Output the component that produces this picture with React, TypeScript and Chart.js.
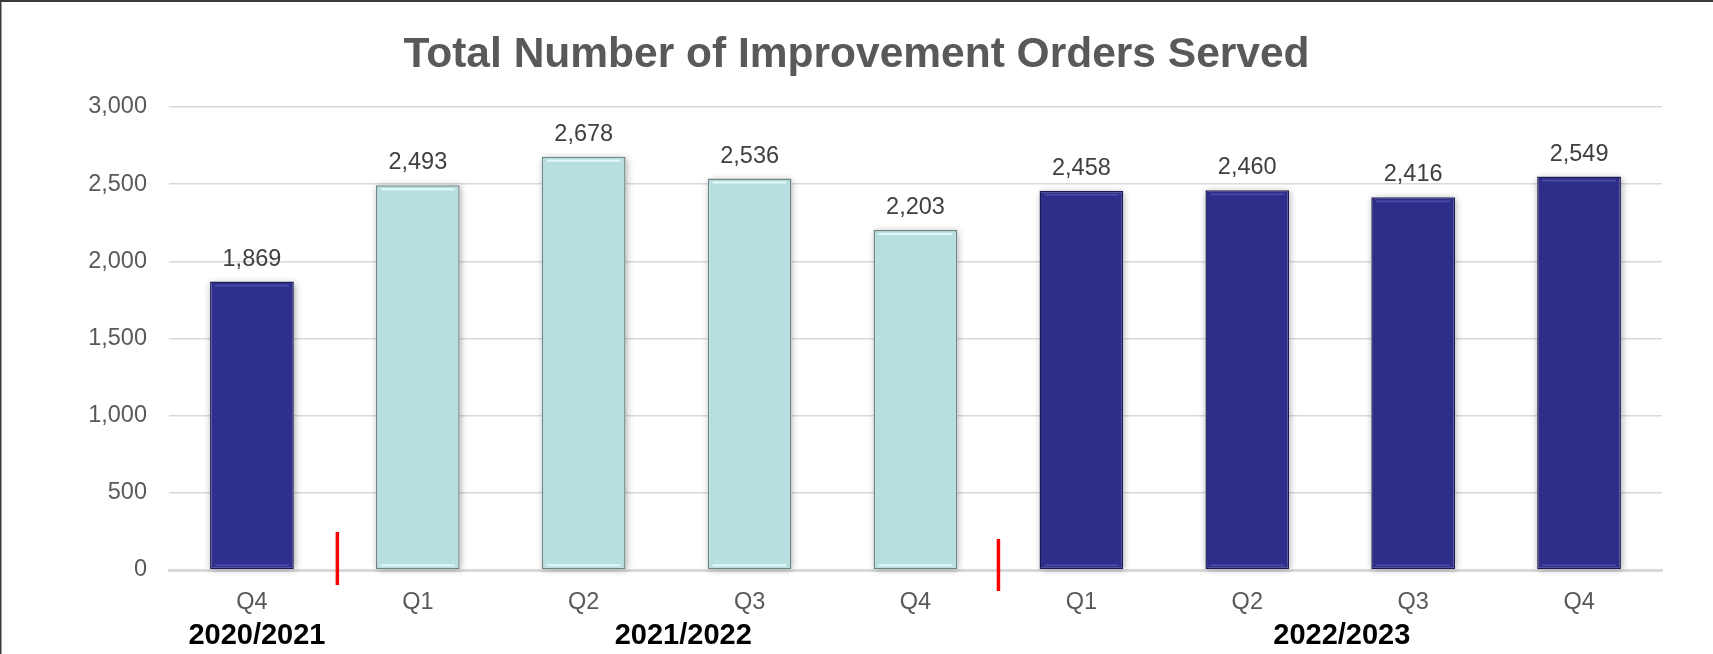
import { useEffect, useRef } from "react";
import { Chart, registerables } from "chart.js";

Chart.register(...registerables);

const chartTitle = "Total Number of Improvement Orders Served";
const quarters = ["Q4", "Q1", "Q2", "Q3", "Q4", "Q1", "Q2", "Q3", "Q4"];
const fiscalYearOfBar = [
  "2020/2021",
  "2021/2022",
  "2021/2022",
  "2021/2022",
  "2021/2022",
  "2022/2023",
  "2022/2023",
  "2022/2023",
  "2022/2023",
];
const ordersServed = [1869, 2493, 2678, 2536, 2203, 2458, 2460, 2416, 2549];
const fiscalYears = ["2020/2021", "2021/2022", "2022/2023"];
const yTickValues = [0, 500, 1000, 1500, 2000, 2500, 3000];

const FONT = "'Liberation Sans', Arial, Helvetica, sans-serif";

const yearStyle: Record<string, { fill: string; border: string; hi: string }> = {
  "2020/2021": { fill: "#2F2F8F", border: "#1C1C55", hi: "rgba(120,120,220,0.35)" },
  "2021/2022": { fill: "#B8DFE0", border: "#6F8585", hi: "rgba(235,255,255,0.8)" },
  "2022/2023": { fill: "#2E2D89", border: "#1C1C55", hi: "rgba(120,120,220,0.35)" },
};

// where each fiscal-year caption sits, in category units
const yearCaptionAt: Record<string, number> = {
  "2020/2021": 0.03,
  "2021/2022": 2.6,
  "2022/2023": 6.57,
};
// horizontal nudge (category units) and vertical extents of the red separators relative to the zero line
const separatorShape = [
  { dx: 0.015, top: -38, bottom: 15 },
  { dx: 0, top: -31, bottom: 21 },
];

const chartPlugin = {
  id: "custom",
  beforeDraw(chart: any) {
    const ctx = chart.ctx;
    ctx.save();
    ctx.fillStyle = "#ffffff";
    ctx.fillRect(0, 0, chart.width, chart.height);
    ctx.fillStyle = "#3a3a3a";
    ctx.fillRect(0, 0, chart.width, 2);
    ctx.fillRect(0, 0, 1.5, chart.height);
    // title
    ctx.fillStyle = "#595959";
    ctx.font = `bold 42.5px ${FONT}`;
    ctx.textAlign = "center";
    ctx.textBaseline = "alphabetic";
    ctx.fillText(chartTitle, chart.width / 2, 67);
    ctx.restore();
  },
  beforeDatasetsDraw(chart: any) {
    const ctx = chart.ctx;
    const meta = chart.getDatasetMeta(0);
    ctx.save();
    ctx.shadowColor = "rgba(0,0,0,0.35)";
    ctx.shadowBlur = 7;
    ctx.shadowOffsetX = 1;
    ctx.shadowOffsetY = 1;
    ctx.fillStyle = "#ffffff";
    meta.data.forEach((bar: any) => {
      const { x, y, base, width } = bar.getProps(["x", "y", "base", "width"], true);
      ctx.fillRect(x - width / 2, y, width, base - y);
    });
    ctx.restore();
  },
  afterDatasetsDraw(chart: any) {
    const ctx = chart.ctx;
    const meta = chart.getDatasetMeta(0);
    ctx.save();
    meta.data.forEach((bar: any, i: number) => {
      const { x, y, base, width } = bar.getProps(["x", "y", "base", "width"], true);
      const st = yearStyle[fiscalYearOfBar[i]];
      ctx.strokeStyle = st.hi;
      ctx.lineWidth = 2;
      ctx.beginPath();
      ctx.moveTo(x - width / 2 + 5, y + 4);
      ctx.lineTo(x + width / 2 - 5, y + 4);
      ctx.moveTo(x - width / 2 + 5, base - 4);
      ctx.lineTo(x + width / 2 - 5, base - 4);
      ctx.stroke();
      // value label
      ctx.fillStyle = "#404040";
      ctx.font = `23.5px ${FONT}`;
      ctx.textAlign = "center";
      ctx.textBaseline = "alphabetic";
      ctx.fillText(ordersServed[i].toLocaleString("en-US"), x, y - 16);
    });
    ctx.restore();
  },
  afterDraw(chart: any) {
    const ctx = chart.ctx;
    const xs = chart.scales.x;
    const zero = chart.scales.y.getPixelForValue(0);
    ctx.save();
    // red separators between fiscal years
    ctx.strokeStyle = "#FF0000";
    ctx.lineWidth = 3.5;
    let k = 0;
    for (let i = 1; i < fiscalYearOfBar.length; i++) {
      if (fiscalYearOfBar[i] !== fiscalYearOfBar[i - 1]) {
        const sh = separatorShape[k] || { dx: 0, top: -35, bottom: 18 };
        const px = xs.getPixelForValue(i - 0.5 + sh.dx);
        ctx.beginPath();
        ctx.moveTo(px, zero + sh.top);
        ctx.lineTo(px, zero + sh.bottom);
        ctx.stroke();
        k++;
      }
    }
    // fiscal-year captions
    ctx.fillStyle = "#000000";
    ctx.font = `bold 29px ${FONT}`;
    ctx.textAlign = "center";
    ctx.textBaseline = "middle";
    fiscalYears.forEach((fy) => {
      ctx.fillText(fy, xs.getPixelForValue(yearCaptionAt[fy]), 636);
    });
    ctx.restore();
  },
};

export default function App() {
  const ref = useRef<HTMLCanvasElement | null>(null);
  useEffect(() => {
    if (!ref.current) return;
    const chart = new Chart(ref.current, {
      type: "bar",
      data: {
        labels: quarters,
        datasets: [
          {
            data: ordersServed,
            backgroundColor: fiscalYearOfBar.map((y) => yearStyle[y].fill),
            borderColor: fiscalYearOfBar.map((y) => yearStyle[y].border),
            borderWidth: 1.5,
            borderSkipped: false,
            barPercentage: 0.505,
            categoryPercentage: 1,
          },
        ],
      },
      options: {
        responsive: false,
        animation: false,
        devicePixelRatio: 1,
        layout: { padding: { top: 107, right: 51, left: 0, bottom: 0 } },
        plugins: {
          legend: { display: false },
          title: { display: false },
          tooltip: { enabled: false },
        },
        scales: {
          x: {
            grid: { display: false, drawTicks: false },
            border: { display: true, color: "#D9D9D9", width: 3 },
            ticks: {
              color: "#595959",
              font: { family: FONT, size: 23.5 },
              padding: 18,
            },
            afterFit(scale: any) {
              scale.height = 84;
            },
          },
          y: {
            min: 0,
            max: 3000,
            afterBuildTicks(scale: any) {
              scale.ticks = yTickValues.map((v) => ({ value: v }));
            },
            grid: { color: "#D9D9D9", lineWidth: 1.5, drawTicks: false },
            border: { display: false },
            ticks: {
              color: "#595959",
              font: { family: FONT, size: 23.5 },
              padding: 22,
              callback: (v: any) => Number(v).toLocaleString("en-US"),
            },
            afterFit(scale: any) {
              scale.width = 169;
            },
          },
        },
      },
      plugins: [chartPlugin],
    });
    return () => chart.destroy();
  }, []);
  return (
    <div style={{ position: "absolute", left: 0, top: 0, width: 1713, height: 654 }}>
      <canvas ref={ref} width={1713} height={654} style={{ display: "block" }} />
    </div>
  );
}
